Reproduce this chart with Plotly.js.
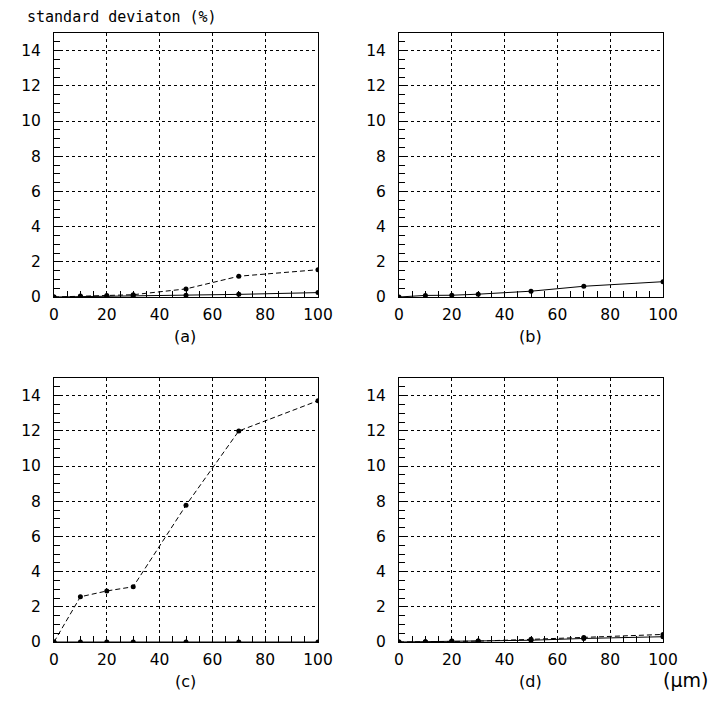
<!DOCTYPE html>
<html>
<head>
<meta charset="utf-8">
<script src="https://cdn.plot.ly/plotly-3.0.1.min.js"></script>
<style>html,body{margin:0;padding:0;background:#fff;}#chart{width:725px;height:714px;}</style>
</head>
<body>
<div id="chart"></div>
<script>
// ---- data ----
const xValues = [0, 10, 20, 30, 50, 70, 100];
const aSolid  = [0, 0.02, 0.03, 0.05, 0.10, 0.15, 0.25];
const aDashed = [0, 0.05, 0.08, 0.13, 0.46, 1.18, 1.55];
const bSolid  = [0, 0.09, 0.10, 0.16, 0.33, 0.61, 0.87];
const cSolid  = [0, 0, 0, 0, 0, 0, 0];
const cDashed = [0, 2.57, 2.90, 3.14, 7.77, 11.99, 13.71];
const dSolid  = [0, 0.02, 0.04, 0.05, 0.10, 0.20, 0.30];
const dDashed = [0, 0.02, 0.05, 0.05, 0.15, 0.26, 0.43];
const panelLabels = ['(a)', '(b)', '(c)', '(d)'];
const yTitle = 'standard deviaton (%)';
const xUnit = '(\u03bcm)';

// ---- layout helpers ----
const W = 725, H = 714;
const FONT = 'DejaVu Sans, sans-serif';
const MONO = 'DejaVu Sans Mono, monospace';
function xd(l, r) { return [l / W, r / W]; }
function yd(t, b) { return [(H - b) / H, (H - t) / H]; }

function solid(x, y, xa, ya) {
  return {x: x, y: y, xaxis: xa, yaxis: ya, mode: 'lines+markers', type: 'scatter',
    line: {color: 'black', width: 1}, marker: {color: 'black', size: 5}, showlegend: false, hoverinfo: 'skip'};
}
function dashed(x, y, xa, ya) {
  return {x: x, y: y, xaxis: xa, yaxis: ya, mode: 'lines+markers', type: 'scatter',
    line: {color: 'black', width: 1, dash: '5px,3px'}, marker: {color: 'black', size: 5}, showlegend: false, hoverinfo: 'skip'};
}

const data = [
  solid(xValues, aSolid, 'x', 'y'),
  dashed(xValues, aDashed, 'x', 'y'),
  solid(xValues, bSolid, 'x2', 'y2'),
  solid(xValues, cSolid, 'x3', 'y3'),
  dashed(xValues, cDashed, 'x3', 'y3'),
  solid(xValues, dSolid, 'x4', 'y4'),
  dashed(xValues, dDashed, 'x4', 'y4')
];

function xAxis(dom, anchor) {
  return {domain: dom, anchor: anchor, range: [0, 100], dtick: 20, tick0: 0,
    showline: true, linecolor: 'black', linewidth: 1, mirror: true,
    showgrid: true, gridcolor: 'black', gridwidth: 1, griddash: '3px,3px',
    zeroline: false, ticks: 'inside', ticklen: 6, tickcolor: 'black',
    minor: {dtick: 5, ticks: 'inside', ticklen: 6, tickcolor: 'black', showgrid: false},
    tickfont: {family: FONT, size: 15.5, color: 'black'}, ticklabelstandoff: 3, fixedrange: true};
}
function yAxis(dom, anchor) {
  return {domain: dom, anchor: anchor, range: [0, 15], dtick: 2, tick0: 0,
    showline: true, linecolor: 'black', linewidth: 1, mirror: true,
    showgrid: true, gridcolor: 'black', gridwidth: 1, griddash: '3px,3px',
    zeroline: false, ticks: 'inside', ticklen: 6, tickcolor: 'black',
    minor: {dtick: 0.5, ticks: 'inside', ticklen: 6, tickcolor: 'black', showgrid: false},
    tickfont: {family: FONT, size: 15.5, color: 'black'}, ticklabelstandoff: 9, fixedrange: true};
}

function ann(text, px, py, size, family, xanchor) {
  return {text: text, xref: 'paper', yref: 'paper', x: px / W, y: (H - py) / H,
    xanchor: xanchor || 'center', yanchor: 'middle', showarrow: false,
    font: {family: family, size: size, color: 'black'}};
}

const layout = {
  width: W, height: H,
  margin: {l: 0, r: 0, t: 0, b: 0},
  paper_bgcolor: 'white', plot_bgcolor: 'white',
  xaxis: xAxis(xd(54, 318), 'y'),   yaxis: yAxis(yd(33, 297), 'x'),
  xaxis2: xAxis(xd(399, 663), 'y2'), yaxis2: yAxis(yd(33, 297), 'x2'),
  xaxis3: xAxis(xd(54, 318), 'y3'), yaxis3: yAxis(yd(378, 642), 'x3'),
  xaxis4: xAxis(xd(399, 663), 'y4'), yaxis4: yAxis(yd(378, 642), 'x4'),
  annotations: [
    ann(yTitle, 25, 17, 15, MONO, 'left'),
    ann(panelLabels[0], 185, 336, 16, FONT),
    ann(panelLabels[1], 530, 336, 16, FONT),
    ann(panelLabels[2], 185, 681, 16, FONT),
    ann(panelLabels[3], 530, 681, 16, FONT),
    ann(xUnit, 685, 680, 19, FONT)
  ]
};

Plotly.newPlot('chart', data, layout, {staticPlot: true, displayModeBar: false});
</script>
</body>
</html>
